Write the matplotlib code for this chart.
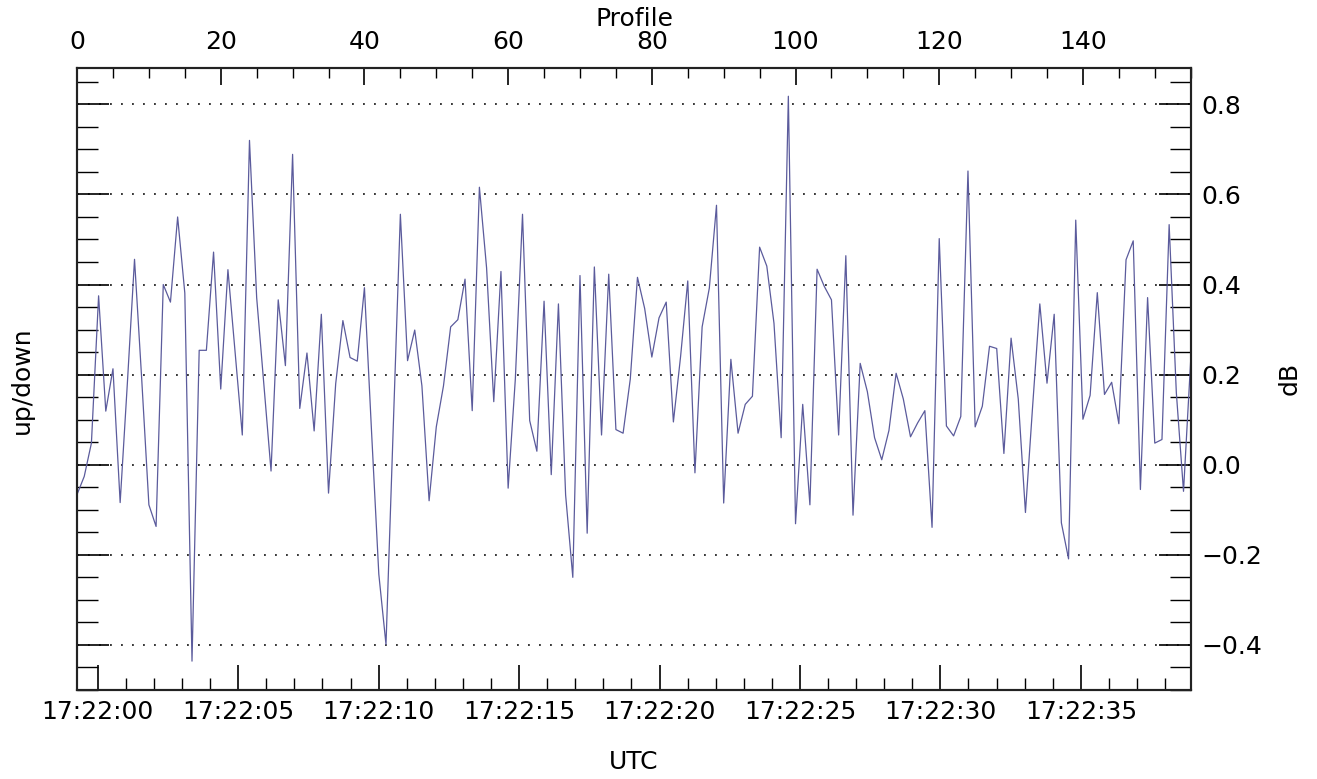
import matplotlib
matplotlib.use('Agg')
import matplotlib.pyplot as plt
from matplotlib.ticker import MultipleLocator, FuncFormatter
import numpy as np

# up/down ratio per profile (dB)
updown = [
    -0.066, -0.026, 0.048, 0.375, 0.119, 0.213, -0.084, 0.180, 0.456, 0.190,
    -0.089, -0.137, 0.400, 0.361, 0.550, 0.381, -0.436, 0.254, 0.254, 0.472,
    0.168, 0.433, 0.250, 0.066, 0.720, 0.371, 0.179, -0.014, 0.366, 0.220,
    0.689, 0.125, 0.248, 0.075, 0.334, -0.063, 0.180, 0.320, 0.238, 0.230,
    0.393, 0.070, -0.243, -0.399, 0.078, 0.556, 0.231, 0.299, 0.175, -0.080,
    0.084, 0.175, 0.306, 0.322, 0.412, 0.120, 0.616, 0.437, 0.140, 0.429,
    -0.052, 0.190, 0.556, 0.098, 0.030, 0.363, -0.022, 0.357, -0.067, -0.250,
    0.420, -0.152, 0.439, 0.066, 0.423, 0.078, 0.070, 0.190, 0.416, 0.347,
    0.239, 0.326, 0.361, 0.095, 0.240, 0.408, -0.018, 0.306, 0.392, 0.576,
    -0.085, 0.234, 0.070, 0.134, 0.152, 0.483, 0.441, 0.314, 0.060, 0.818,
    -0.131, 0.134, -0.089, 0.434, 0.396, 0.366, 0.066, 0.464, -0.112, 0.225,
    0.162, 0.060, 0.011, 0.076, 0.203, 0.146, 0.062, 0.093, 0.120, -0.139,
    0.502, 0.086, 0.064, 0.107, 0.652, 0.084, 0.130, 0.263, 0.258, 0.025,
    0.281, 0.146, -0.106, 0.130, 0.357, 0.181, 0.334, -0.129, -0.209, 0.543,
    0.101, 0.154, 0.382, 0.156, 0.183, 0.091, 0.455, 0.497, -0.055, 0.371,
    0.048, 0.056, 0.533, 0.160, -0.059, 0.232,
]

# time of first profile, seconds after 17:22:00, and profile spacing
t_start = -0.737
t_step = 0.2558

profiles = np.arange(len(updown))
seconds = t_start + t_step * profiles

fs = 18
plt.rcParams['font.family'] = 'DejaVu Sans'

fig = plt.figure(figsize=(13.17, 7.79), dpi=100)
ax = fig.add_axes([0.0585, 0.1143, 0.8456, 0.7980])

ax.plot(seconds, updown, color='#5b5b9c', lw=0.9)

ax.set_xlim(seconds[0], seconds[-1])
ax.set_ylim(-0.5, 0.88)

# dotted horizontal grid at major y ticks
for yv in np.arange(-0.4, 0.81, 0.2):
    ax.axhline(yv, color='black', lw=1.1, linestyle=(0, (1.2, 6)), zorder=0)

for s in ax.spines.values():
    s.set_linewidth(1.5)
    s.set_color('#222222')

# bottom: time axis
ax.xaxis.set_major_locator(MultipleLocator(5))
ax.xaxis.set_minor_locator(MultipleLocator(1))
ax.xaxis.set_major_formatter(FuncFormatter(lambda v, p: '17:22:%02d' % round(v)))
ax.tick_params(axis='x', which='major', direction='in', length=18, width=1.2,
               labelsize=fs, pad=7, top=False)
ax.tick_params(axis='x', which='minor', direction='in', length=9, width=1.0,
               top=False)

# left / right: dB axis, labels on right only
ax.yaxis.set_major_locator(MultipleLocator(0.2))
ax.yaxis.set_minor_locator(MultipleLocator(0.05))
ax.yaxis.set_major_formatter(
    FuncFormatter(lambda v, p: ('%.1f' % v).replace('-', '\u2212')))
ax.tick_params(axis='y', which='both', direction='in', left=True, right=True,
               labelleft=False, labelright=True, labelsize=fs, pad=8)
ax.tick_params(axis='y', which='major', length=23, width=1.2)
ax.tick_params(axis='y', which='minor', length=15, width=1.0)

# top: profile number
top = ax.twiny()
top.set_xlim(profiles[0], profiles[-1])
top.xaxis.set_major_locator(MultipleLocator(20))
top.xaxis.set_minor_locator(MultipleLocator(5))
top.tick_params(axis='x', which='major', direction='in', length=12, width=1.2,
                labelsize=fs, pad=10)
top.tick_params(axis='x', which='minor', direction='in', length=7, width=1.0)
for s in top.spines.values():
    s.set_linewidth(1.5)
    s.set_color('#222222')

fig.text(634 / 1317, 1 - 19 / 779, 'Profile', ha='center', va='center', fontsize=fs)
fig.text(634 / 1317, 1 - 762 / 779, 'UTC', ha='center', va='center', fontsize=fs)
fig.text(22 / 1317, 1 - 380 / 779, 'up/down', ha='center', va='center',
         rotation=90, fontsize=fs)
fig.text(1290 / 1317, 1 - 378 / 779, 'dB', ha='center', va='center',
         rotation=90, fontsize=fs)

fig.savefig('out.png', dpi=100, facecolor='white')
